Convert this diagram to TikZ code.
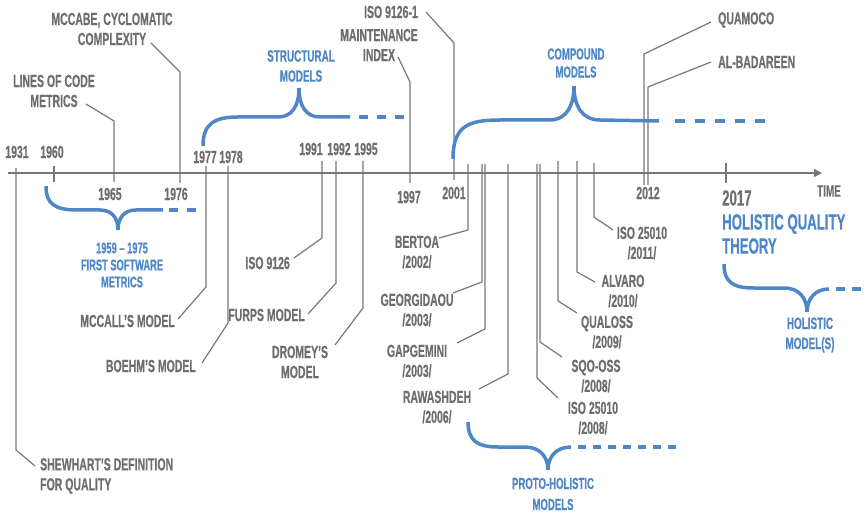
\documentclass[tikz,border=0pt]{standalone}
\usepackage{fontspec}
\newfontfamily\cf{Liberation Sans}[UprightFont=* Bold, FakeStretch=0.6, FakeBold=0.5]
\usetikzlibrary{arrows.meta}
\definecolor{tgray}{HTML}{6E6E6E}
\definecolor{lgray}{HTML}{777777}
\definecolor{tblue}{HTML}{4F86C6}
\begin{document}
\begin{tikzpicture}[x=1pt,y=-1pt,
  lbl/.style={font=\cf\fontsize{17.5}{20}\selectfont, text=tgray, inner sep=0pt, align=center},
  yr/.style={font=\cf\fontsize{17.5}{18}\selectfont, text=tgray, inner sep=0pt},
  big/.style={font=\cf\fontsize{22}{24}\selectfont, inner sep=0pt, align=left},
  blbl/.style={font=\cf\fontsize{16.5}{20}\selectfont, text=tblue, inner sep=0pt, align=center},
  conn/.style={draw=lgray, line width=1.2pt},
  brace/.style={draw=tblue, line width=3.5pt},
  bdash/.style={draw=tblue, line width=3.5pt, dash pattern=on 9pt off 9pt},
]
\useasboundingbox (0,0) rectangle (867,513);

% axis
\coordinate (ax0) at (8,173);
\coordinate (ax1) at (822,173);
\draw[draw=lgray, line width=1.4pt, -{Triangle[length=8pt,width=8pt]}] (ax0) -- (ax1);

% event lines
\foreach \n/\xa/\ya/\yb/\xc/\yc in {
  shew/16/168/450/35/466, loc/114/182/121/86/104, mccabe/180/183/72/151/43,
  mccall/206/166/287/178/319, boehm/228/166/323/202/363,
  isoa/322/161/238/294/258, furps/336/161/283/308/314, dromey/363/161/308/335/345,
  mi/410/183/82/398/57, isob/454/180/43/426/12,
  bertoa/468/164/230/439/238, georg/482/164/282/453/293, gapg/485/164/329/457/343,
  rawa/508/164/374/479/389, isoc/537/164/378/558/398, sqo/540/164/342/562/357,
  qualoss/558/161/301/577/313, alvaro/577/161/272/595/282, isod/594/163/217/613/230,
  quamoco/644/185/54/711/22, albad/648/185/87/711/62}
{
  \coordinate (s\n) at (\xa,\ya);
  \coordinate (k\n) at (\xa,\yb);
  \coordinate (e\n) at (\xc,\yc);
  \draw[conn] (s\n) -- (k\n) -- (e\n);
}
% ticks
\coordinate (t60a) at (54,166); \coordinate (t60b) at (54,182);
\draw[conn] (t60a) -- (t60b);
\coordinate (t17a) at (726,163); \coordinate (t17b) at (726,183);
\draw[conn] (t17a) -- (t17b);

% event labels
\node[lbl, anchor=west, align=left] (lshew) at (40,476) {SHEWHART’S DEFINITION\\FOR QUALITY};
\node[lbl] (lloc) at (54,91) {LINES OF CODE\\METRICS};
\node[lbl] (lmccabe) at (112,29) {MCCABE, CYCLOMATIC\\COMPLEXITY};
\node[lbl, anchor=east] (lmccall) at (175,321) {MCCALL’S MODEL};
\node[lbl, anchor=east] (lboehm) at (196,366) {BOEHM’S MODEL};
\node[lbl, anchor=east] (lisoa) at (290,263) {ISO 9126};
\node[lbl, anchor=east] (lfurps) at (305,315) {FURPS MODEL};
\node[lbl] (ldromey) at (300,362) {DROMEY’S\\MODEL};
\node[lbl] (lmi) at (379,45) {MAINTENANCE\\INDEX};
\node[lbl, anchor=east] (lisob) at (418,12) {ISO 9126-1};
\node[lbl] (lbertoa) at (417,252) {BERTOA\\/2002/};
\node[lbl] (lgeorg) at (417,310) {GEORGIDAOU\\/2003/};
\node[lbl] (lgapg) at (417,361) {GAPGEMINI\\/2003/};
\node[lbl] (lrawa) at (437,407) {RAWASHDEH\\/2006/};
\node[lbl] (lisoc) at (593,418) {ISO 25010\\/2008/};
\node[lbl] (lsqo) at (596,376) {SQO-OSS\\/2008/};
\node[lbl] (lqualoss) at (607,332) {QUALOSS\\/2009/};
\node[lbl] (lalvaro) at (623,291) {ALVARO\\/2010/};
\node[lbl] (lisod) at (642,243) {ISO 25010\\/2011/};
\node[lbl, anchor=west] (lquamoco) at (718,20) {QUAMOCO};
\node[lbl, anchor=west] (lalbad) at (718,62) {AL-BADAREEN};

% years
\node[yr] (y1931) at (17,152) {1931};
\node[yr] (y1960) at (52,152) {1960};
\node[yr] (y1965) at (110,194) {1965};
\node[yr] (y1976) at (176,194) {1976};
\node[yr] (y1977) at (205,157) {1977};
\node[yr] (y1978) at (231,157) {1978};
\node[yr] (y1991) at (311,149) {1991};
\node[yr] (y1992) at (339,149) {1992};
\node[yr] (y1995) at (366,149) {1995};
\node[yr] (y1997) at (409,197) {1997};
\node[yr] (y2001) at (454,193) {2001};
\node[yr] (y2012) at (648,193) {2012};
\node[big, text=tgray, anchor=west] (y2017) at (722,198) {2017};
\node[yr, font=\cf\fontsize{16.5}{18}\selectfont] (ltime) at (829,191) {TIME};
\node[big, text=tblue, anchor=west] (lhqt) at (722,234) {HOLISTIC QUALITY\\THEORY};

% braces
\draw[brace] (46,186) .. controls (46,205) and (56,210) .. (78,210) -- (100,210)
  .. controls (112,210) and (118,218) .. (118,230)
  .. controls (118,218) and (124,210) .. (136,210) -- (163,210);
\draw[bdash] (169,210) -- (205,210);
\node[blbl, font=\cf\fontsize{15.5}{17}\selectfont] (lsw) at (122,265) {1959 – 1975\\FIRST SOFTWARE\\METRICS};

\draw[brace] (203,146) .. controls (203,124) and (214,117) .. (238,117) -- (278,117)
  .. controls (292,117) and (299,106) .. (299,88)
  .. controls (299,106) and (306,117) .. (320,117) -- (350,117);
\draw[bdash] (359,117) -- (404,117);
\node[blbl] (lstruct) at (301,66) {STRUCTURAL\\MODELS};

\draw[brace] (453,159) .. controls (453,126) and (468,120) .. (500,120) -- (550,120)
  .. controls (566,120) and (574,106) .. (574,86)
  .. controls (574,106) and (582,120) .. (600,120) -- (659,121);
\draw[bdash, dash pattern=on 10pt off 10pt] (675,121) -- (770,121);
\node[blbl, font=\cf\fontsize{16}{18}\selectfont] (lcomp) at (576,63) {COMPOUND\\MODELS};

\draw[brace] (468,422) .. controls (468,441) and (478,447) .. (498,447) -- (525,447)
  .. controls (540,447) and (548,457) .. (548,470)
  .. controls (548,457) and (556,447) .. (571,447);
\draw[bdash, dash pattern=on 8pt off 7pt] (578,447) -- (682,447);
\node[blbl, font=\cf\fontsize{16}{21}\selectfont] (lproto) at (553,494) {PROTO-HOLISTIC\\MODELS};

\draw[brace] (724,264) .. controls (724,283) and (734,288) .. (754,288) -- (784,288)
  .. controls (800,288) and (807,299) .. (807,312)
  .. controls (807,299) and (815,289) .. (829,289);
\draw[bdash, dash pattern=on 9pt off 7pt] (836,289) -- (867,289);
\node[blbl] (lhol) at (810,335) {HOLISTIC\\MODEL(S)};
\end{tikzpicture}
\end{document}
